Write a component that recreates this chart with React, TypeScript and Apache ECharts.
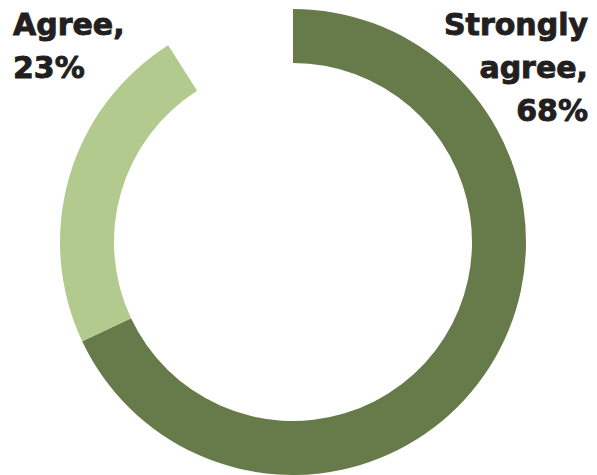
import React, { useEffect, useRef } from "react";
import * as echarts from "echarts";

const categories = ["Strongly agree", "Agree"];
const values = [68, 23];
const remainder = 9;
const colors = ["#677b4a", "#b3ca8e"];

export default function App() {
  const ref = useRef<HTMLDivElement>(null);
  useEffect(() => {
    document.body.style.margin = "0";
    const chart = echarts.init(ref.current!, null, { renderer: "svg" });
    const labelFor = (i: number) =>
      `${categories[i].replace(" ", "\n")},\n${values[i]}%`;
    const font = {
      fontFamily: "DejaVu Sans",
      fontWeight: "bold" as const,
      fontSize: 30,
      lineHeight: 43,
      fill: "#231f20",
      stroke: "#231f20",
      lineWidth: 0.9,
    };
    chart.setOption({
      animation: false,
      backgroundColor: "#ffffff",
      series: [
        {
          type: "pie",
          center: [293, 242],
          radius: [179, 233],
          startAngle: 90,
          clockwise: true,
          silent: true,
          label: { show: false },
          labelLine: { show: false },
          emphasis: { disabled: true },
          data: [
            ...values.map((v, i) => ({
              name: categories[i],
              value: v,
              itemStyle: { color: colors[i] },
            })),
            { name: "", value: remainder, itemStyle: { color: "rgba(0,0,0,0)" } },
          ],
        },
      ],
      graphic: [
        {
          type: "text",
          x: 588,
          y: 3,
          style: { ...font, text: labelFor(0), textAlign: "right", textVerticalAlign: "top" },
        },
        {
          type: "text",
          x: 13,
          y: 3,
          style: { ...font, text: labelFor(1), textAlign: "left", textVerticalAlign: "top" },
        },
      ],
    });
    return () => chart.dispose();
  }, []);
  return (
    <div
      ref={ref}
      style={{ position: "absolute", left: 0, top: 0, width: 597, height: 475 }}
    />
  );
}
